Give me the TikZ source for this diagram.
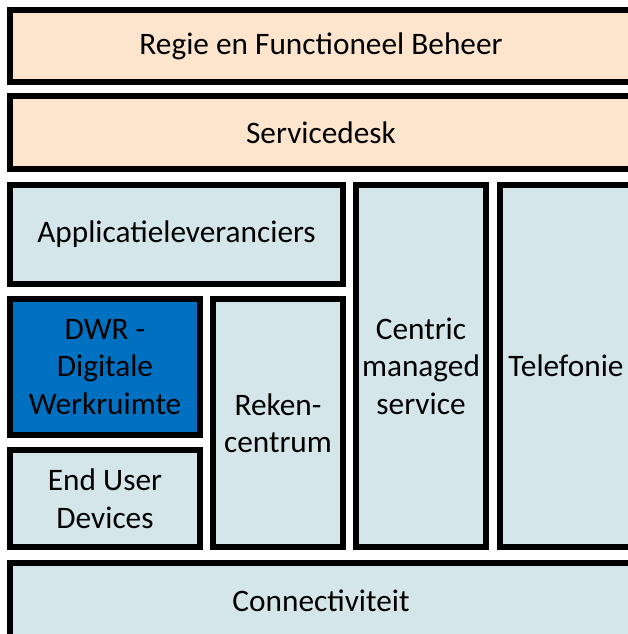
\documentclass[tikz,border=0pt]{standalone}
\usepackage{fontspec}
\setmainfont{Carlito}
\definecolor{peach}{HTML}{FDE5CD}
\definecolor{lblue}{HTML}{D4E6EA}
\definecolor{dblue}{HTML}{0070C0}
\tikzset{
  box/.style={draw=black, line width=6pt, rectangle, inner sep=0pt, outer sep=0pt, align=center,
    font=\fontsize{31.3}{37.5}\selectfont, text=black},
  pbox/.style={box, fill=peach},
  bbox/.style={box, fill=lblue},
  dbox/.style={box, fill=dblue},
}
\begin{document}
\begin{tikzpicture}[x=1pt,y=-1pt]
\useasboundingbox (0,0) rectangle (628,634);
\fill[white] (0,0) rectangle (628,634);
\clip (0,0) rectangle (628,634);
\node[pbox, minimum width=622pt, minimum height=72pt] (regie) at (321,46) {Regie en Functioneel Beheer};
\node[pbox, minimum width=622pt, minimum height=73pt] (service) at (321,132.5) {Servicedesk};
\node[bbox, minimum width=333pt, minimum height=99pt] (appl) at (176.5,234.5) {Applicatieleveranciers};
\node[dbox, minimum width=190pt, minimum height=136pt] (dwr) at (105,367) {DWR -\\Digitale\\Werkruimte};
\node[bbox, minimum width=190pt, minimum height=97pt] (eud) at (105,498.5) {End User\\Devices};
\node[bbox, minimum width=130pt, minimum height=248pt] (reken) at (278,423) {Reken-\\centrum};
\node[bbox, minimum width=130pt, minimum height=362pt] (centric) at (421,366) {Centric\\managed\\service};
\node[bbox, minimum width=132pt, minimum height=362pt] (tel) at (566,366) {Telefonie};
\node[bbox, minimum width=622pt, minimum height=76pt] (conn) at (321,601) {Connectiviteit};
\end{tikzpicture}
\end{document}
